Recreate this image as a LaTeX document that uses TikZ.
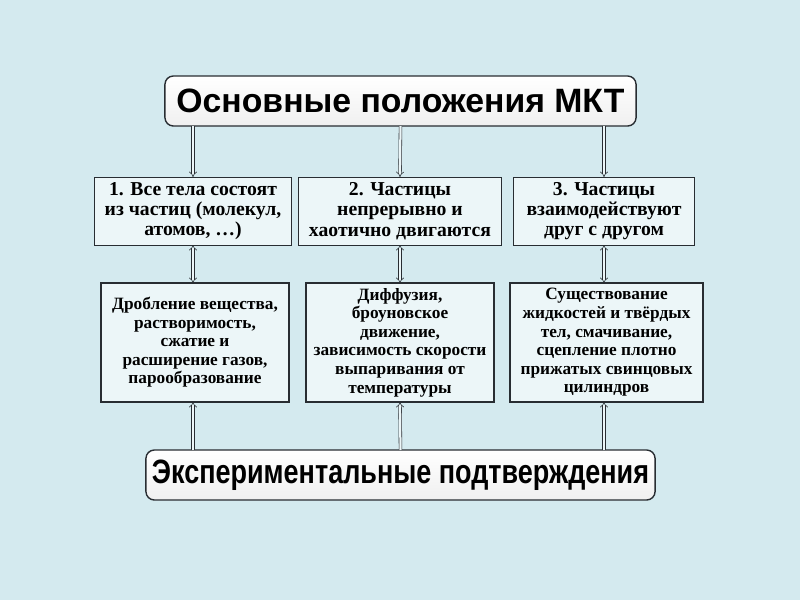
\documentclass[tikz,border=0pt]{standalone}
\usepackage{fontspec}
\setmainfont{Liberation Serif}
\newfontfamily\headfont{Liberation Sans}
\usetikzlibrary{arrows.meta}

\definecolor{paper}{RGB}{212,234,239}
\definecolor{boxfill}{RGB}{236,246,248}
\definecolor{boxline}{RGB}{40,45,50}

\tikzset{
  headbox/.style={draw=boxline,line width=1pt,rounded corners=6pt,top color=white,bottom color=gray!12,
    inner sep=0pt,outer sep=0pt,minimum height=1.25cm,font=\headfont\bfseries\fontsize{24}{26}\selectfont},
  lawbox/.style={draw=boxline,line width=0.7pt,fill=boxfill,align=center,inner sep=0pt,outer sep=0pt,
    minimum height=1.7cm,font=\bfseries\fontsize{14}{14.4}\selectfont},
  proofbox/.style={draw=boxline,line width=1.2pt,fill=boxfill,align=center,inner sep=0pt,outer sep=0pt,
    minimum height=2.975cm,font=\bfseries\fontsize{12.3}{13.2}\selectfont},
  link/.style={draw=boxline,line width=0.4pt,double=boxfill,double distance=1.6pt},
}

\begin{document}
\begin{tikzpicture}[x=0.025cm,y=-0.025cm]
  \fill[paper] (0,0) rectangle (800,600);
  \useasboundingbox (0,0) rectangle (800,600);

  % main statement
  \node[headbox,minimum width=11.775cm] (title) at (400.5,101) {Основные положения МКТ};

  % the three statements
  \node[lawbox,minimum width=4.9cm] (p1) at (193,211) {1. Все тела состоят\\из частиц (молекул,\\атомов, \dots)};
  \node[lawbox,minimum width=5.05cm] (p2) at (400,211) {2. Частицы\\непрерывно и\\хаотично двигаются};
  \node[lawbox,minimum width=4.5cm] (p3) at (604,211) {3. Частицы\\взаимодействуют\\друг с другом};

  % evidence
  \node[proofbox,minimum width=4.7cm] (e1) at (195,342.5) {Дробление вещества,\\растворимость,\\сжатие и\\расширение газов,\\парообразование};
  \node[proofbox,minimum width=4.7cm] (e2) at (400,342.5) {Диффузия,\\броуновское\\движение,\\зависимость скорости\\выпаривания от\\температуры};
  \node[proofbox,minimum width=4.825cm] (e3) at (606.5,342.5) {Существование\\жидкостей и твёрдых\\тел, смачивание,\\сцепление плотно\\прижатых свинцовых\\цилиндров};

  \node[headbox,minimum width=12.725cm] (exper) at (400.5,475) {\scalebox{0.8}[1]{Экспериментальные подтверждения}};

  % connectors
  \draw[link,-{Implies}] (title.south -| p1.north) -- (p1.north);
  \draw[link,-{Implies}] (title.south) -- (p2.north);
  \draw[link,-{Implies}] (title.south -| p3.north) -- (p3.north);
  \draw[link,{Implies}-{Implies}] (p1.south) -- (p1.south |- e1.north);
  \draw[link,{Implies}-{Implies}] (p2.south) -- (e2.north);
  \draw[link,{Implies}-{Implies}] (p3.south) -- (p3.south |- e3.north);
  \draw[link,-{Implies}] (exper.north -| p1.south) -- (p1.south |- e1.south);
  \draw[link,-{Implies}] (exper.north) -- (e2.south);
  \draw[link,-{Implies}] (exper.north -| p3.south) -- (p3.south |- e3.south);
\end{tikzpicture}
\end{document}
